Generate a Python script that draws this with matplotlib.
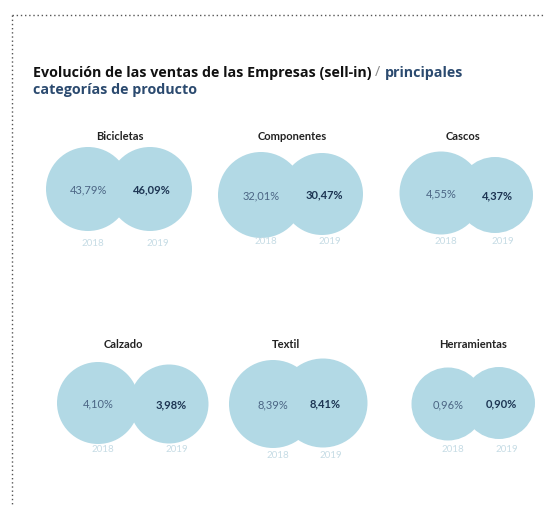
import matplotlib
matplotlib.use("Agg")
import matplotlib.pyplot as plt
from matplotlib.patches import Circle

# Datos: cuota de ventas por categoría (2018 / 2019)
categorias = ["Bicicletas", "Componentes", "Cascos", "Calzado", "Textil", "Herramientas"]
anios = ["2018", "2019"]
valores_2018 = [43.79, 32.01, 4.55, 4.10, 8.39, 0.96]
valores_2019 = [46.09, 30.47, 4.37, 3.98, 8.41, 0.90]

# Disposición (píxeles) de cada pareja de círculos
centros_2018 = [(88, 189), (261, 195), (441, 193), (98, 403), (273, 404), (448, 404)]
centros_2019 = [(150, 189), (322, 194), (495, 195), (169, 404), (323, 403), (499, 403)]
radios_2018 = [42, 43, 41.5, 41, 44, 36.5]
radios_2019 = [42, 41, 38, 39.5, 44.5, 36]
pos_titulo = [(120, 136), (292, 136), (463, 136), (123, 345), (286, 345), (473, 345)]
y_anio = [243, 242, 242, 449, 455, 449]

color_circulo = "#b2d9e5"
color_2018 = "#4b6584"
color_2019 = "#1d3553"
color_anio = "#c6dce5"

plt.rcParams['font.family'] = ['Lato', 'DejaVu Sans']

fig = plt.figure(figsize=(5.45, 5.05), dpi=100)
ax = fig.add_axes([0, 0, 1, 1])
ax.set_xlim(0, 545)
ax.set_ylim(505, 0)
ax.set_aspect("equal")
ax.axis("off")

# Marco punteado
ax.plot([12, 545], [15, 15], color="#555555", linestyle=(0, (1, 2)), linewidth=1)
ax.plot([12, 12], [15, 505], color="#555555", linestyle=(0, (1, 2)), linewidth=1)

# Título (tres tramos con distinto color en la primera línea)
fuente_titulo = dict(fontsize=10.3, fontweight="bold", family=["Open Sans", "DejaVu Sans"],
                     va="center", ha="left")
t1 = ax.text(33, 73, "Evolución de las ventas de las Empresas (sell-in) ",
             color="#111111", **fuente_titulo)
fig.canvas.draw()
x_sl = t1.get_window_extent().transformed(ax.transData.inverted()).x1
t2 = ax.text(x_sl, 73, "/ ", fontsize=10.3, family=["Open Sans", "DejaVu Sans"],
             color="#888888", va="center", ha="left")
fig.canvas.draw()
x_pr = t2.get_window_extent().transformed(ax.transData.inverted()).x1
ax.text(x_pr, 73, "principales", color="#2b4a6f", **fuente_titulo)
ax.text(33, 90, "categorías de producto", color="#2b4a6f", **fuente_titulo)

for i, cat in enumerate(categorias):
    (x1, y1), (x2, y2) = centros_2018[i], centros_2019[i]
    ax.add_patch(Circle((x1, y1), radios_2018[i], color=color_circulo, lw=0))
    ax.add_patch(Circle((x2, y2), radios_2019[i], color=color_circulo, lw=0))
    ax.text(pos_titulo[i][0], pos_titulo[i][1], cat, fontsize=8, fontweight="bold",
            color="#222222", ha="center", va="center")
    ax.text(x1, y1 + 1, f"{valores_2018[i]:.2f}%".replace(".", ","), fontsize=8,
            color=color_2018, ha="center", va="center")
    ax.text(x2 + 2, y2 + 1, f"{valores_2019[i]:.2f}%".replace(".", ","), fontsize=8,
            fontweight="bold", color=color_2019, ha="center", va="center")
    ax.text(x1 + 5, y_anio[i], anios[0], fontsize=7, color=color_anio, ha="center", va="center")
    ax.text(x2 + 8, y_anio[i], anios[1], fontsize=7, color=color_anio, ha="center", va="center")

fig.savefig("out.png", dpi=100)
